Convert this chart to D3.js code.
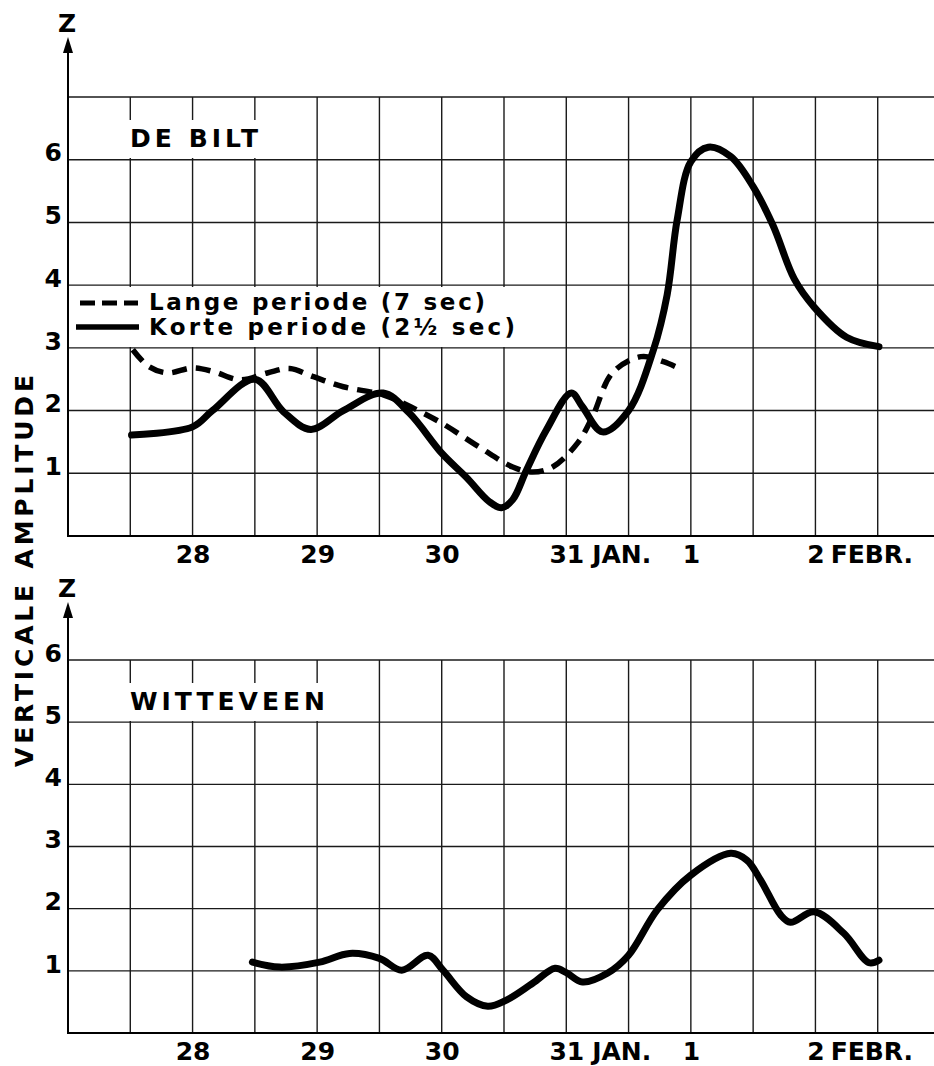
<!DOCTYPE html>
<html>
<head>
<meta charset="utf-8">
<script src="https://cdn.jsdelivr.net/npm/d3@7"></script>
<style>
  body { margin: 0; background: #fff; }
  svg { display: block; font-family: "DejaVu Sans", sans-serif; font-weight: bold; }
</style>
</head>
<body>
<svg id="chart" width="934" height="1066"></svg>
<script>
// days: 27 = 27 jan ... 32 = 1 febr, 33 = 2 febr
const xTickDays = [28, 29, 30, 31, 32, 33];
const xTickLabels = ["28", "29", "30", "31", "1", "2"];
const monthDays = [31, 33];
const monthLabels = ["JAN.", "FEBR."];

// De Bilt, korte periode (2½ sec)
const biltKorteDay = [27.51, 28.0, 28.16, 28.5, 28.73, 28.95, 29.21, 29.53, 29.74, 30.0, 30.2, 30.38, 30.48, 30.57, 30.68, 30.84, 31.04, 31.13, 31.29, 31.5, 31.7, 31.81, 31.89, 32.0, 32.14, 32.32, 32.5, 32.66, 32.83, 32.99, 33.25, 33.51];
const biltKorteAmp = [1.61, 1.74, 2.0, 2.5, 1.98, 1.7, 2.0, 2.28, 1.96, 1.32, 0.93, 0.55, 0.45, 0.58, 1.05, 1.69, 2.28, 2.06, 1.66, 2.0, 2.97, 3.85, 5.04, 5.97, 6.2, 6.05, 5.57, 4.95, 4.1, 3.65, 3.17, 3.02];

// De Bilt, lange periode (7 sec)
const biltLangeDay = [27.52, 27.65, 27.8, 28.0, 28.17, 28.38, 28.6, 28.78, 28.97, 29.21, 29.53, 29.75, 30.0, 30.3, 30.57, 30.73, 30.89, 31.09, 31.21, 31.37, 31.6, 31.78, 31.9];
const biltLangeAmp = [2.97, 2.7, 2.6, 2.68, 2.62, 2.49, 2.6, 2.67, 2.54, 2.38, 2.25, 2.06, 1.8, 1.42, 1.1, 1.02, 1.1, 1.48, 1.9, 2.6, 2.86, 2.78, 2.68];

// Witteveen, korte periode
const wittDay = [28.48, 28.7, 29.02, 29.26, 29.5, 29.68, 29.89, 30.01, 30.2, 30.37, 30.52, 30.73, 30.91, 31.0, 31.13, 31.33, 31.5, 31.73, 32.0, 32.32, 32.45, 32.56, 32.72, 32.8, 32.99, 33.23, 33.43, 33.51];
const wittAmp = [1.14, 1.06, 1.14, 1.28, 1.2, 1.01, 1.25, 1.01, 0.58, 0.43, 0.53, 0.8, 1.04, 0.97, 0.82, 0.96, 1.25, 1.98, 2.54, 2.89, 2.78, 2.46, 1.9, 1.78, 1.95, 1.6, 1.13, 1.17];

const yTicks = [1, 2, 3, 4, 5, 6];

const svg = d3.select("#chart");
const left = 68, right = 940;

const x = d3.scaleLinear().domain([27, 34]).range([left, right]);

function zip(days, amps) {
  return days.map((d, i) => ({day: d, amp: amps[i]}));
}

function drawPanel(opts) {
  const y = d3.scaleLinear().domain([0, opts.yMax]).range([opts.bottom, opts.top]);
  const g = svg.append("g");

  // grid
  const vlines = d3.range(27.5, 34, 0.5);
  g.selectAll(".vl").data(vlines).join("line")
    .attr("x1", d => x(d)).attr("x2", d => x(d))
    .attr("y1", y(0)).attr("y2", y(opts.yMax))
    .attr("stroke", "#1a1a1a").attr("stroke-width", 1.4);
  g.selectAll(".hl").data(d3.range(1, opts.yMax + 1)).join("line")
    .attr("x1", left).attr("x2", 934)
    .attr("y1", d => y(d)).attr("y2", d => y(d))
    .attr("stroke", "#1a1a1a").attr("stroke-width", 1.4);

  // x axis line
  g.append("line")
    .attr("x1", left).attr("x2", 934)
    .attr("y1", y(0)).attr("y2", y(0))
    .attr("stroke", "#000").attr("stroke-width", 2);

  // y axis line with arrow
  g.append("line")
    .attr("x1", left).attr("x2", left)
    .attr("y1", y(0) + 1).attr("y2", opts.arrowTip + 8)
    .attr("stroke", "#000").attr("stroke-width", 2);
  g.append("path")
    .attr("d", `M${left},${opts.arrowTip} L${left - 5},${opts.arrowTip + 16} L${left + 5},${opts.arrowTip + 16} Z`)
    .attr("fill", "#000");
  g.append("text")
    .attr("x", left - 1).attr("y", opts.arrowTip - 5)
    .attr("text-anchor", "middle")
    .attr("font-size", 25)
    .text("Z");

  // station name on a white patch
  g.append("rect")
    .attr("x", left + 1).attr("y", opts.nameBox[0])
    .attr("width", opts.nameBox[2]).attr("height", opts.nameBox[1])
    .attr("fill", "#fff");
  g.append("text")
    .attr("x", 130).attr("y", opts.nameBase)
    .attr("font-size", 25)
    .attr("textLength", opts.nameLen).attr("lengthAdjust", "spacing")
    .text(opts.name);

  // y ticks
  const ya = g.append("g")
    .attr("transform", `translate(${left},0)`)
    .call(d3.axisLeft(y).tickValues(yTicks).tickFormat(d3.format("d"))
      .tickSize(0).tickPadding(6));
  ya.select(".domain").remove();
  ya.selectAll("text")
    .attr("font-family", "DejaVu Sans").attr("font-weight", "bold")
    .attr("font-size", 25).attr("fill", "#000").attr("dy", "0.05em");

  // x ticks
  const xa = g.append("g")
    .attr("transform", `translate(0,${y(0)})`)
    .call(d3.axisBottom(x).tickValues(xTickDays)
      .tickFormat((d, i) => xTickLabels[i]).tickSize(0).tickPadding(9));
  xa.select(".domain").remove();
  xa.selectAll("text")
    .attr("font-family", "DejaVu Sans").attr("font-weight", "bold")
    .attr("font-size", 25).attr("fill", "#000");
  xa.selectAll(".tick").each(function (d) {
    const k = monthDays.indexOf(d);
    if (k < 0) return;
    const t = d3.select(this).select("text");
    const w = t.node().getComputedTextLength();
    t.attr("text-anchor", "start").attr("x", -w / 2);
    t.append("tspan").attr("dx", d === 31 ? 8 : 6).text(monthLabels[k]);
  });

  return {g, y};
}

const topPanel = drawPanel({
  yMax: 7, top: 97, bottom: 536, arrowTip: 37,
  name: "DE BILT", nameBase: 147, nameLen: 128, nameBox: [120, 38, 232]
});
const botPanel = drawPanel({
  yMax: 6, top: 660, bottom: 1033, arrowTip: 602,
  name: "WITTEVEEN", nameBase: 710, nameLen: 195, nameBox: [683, 38, 262]
});

// legend
const lg = topPanel.g.append("g");
lg.append("rect")
  .attr("x", left + 1).attr("y", 287).attr("width", 448).attr("height", 60)
  .attr("fill", "#fff");
lg.append("line")
  .attr("x1", 80).attr("x2", 138).attr("y1", 303).attr("y2", 303)
  .attr("stroke", "#000").attr("stroke-width", 5).attr("stroke-dasharray", "15,7");
lg.append("line")
  .attr("x1", 76).attr("x2", 139).attr("y1", 327).attr("y2", 327)
  .attr("stroke", "#000").attr("stroke-width", 5.5);
lg.append("text")
  .attr("x", 149).attr("y", 310).attr("font-size", 23)
  .attr("textLength", 336).attr("lengthAdjust", "spacing")
  .text("Lange periode (7 sec)");
lg.append("text")
  .attr("x", 149).attr("y", 335).attr("font-size", 23)
  .attr("textLength", 366).attr("lengthAdjust", "spacing")
  .text("Korte periode (2½ sec)");

// curves
function drawCurve(panel, data, dashed) {
  const line = d3.line()
    .x(d => x(d.day))
    .y(d => panel.y(d.amp))
    .curve(d3.curveCatmullRom.alpha(0.5));
  panel.g.append("path")
    .datum(data)
    .attr("d", line)
    .attr("fill", "none")
    .attr("stroke", "#000")
    .attr("stroke-width", dashed ? 5.5 : 7)
    .attr("stroke-linecap", dashed ? "butt" : "round")
    .attr("stroke-linejoin", "round")
    .attr("stroke-dasharray", dashed ? "15,9" : null);
}

drawCurve(topPanel, zip(biltLangeDay, biltLangeAmp), true);
drawCurve(topPanel, zip(biltKorteDay, biltKorteAmp), false);
drawCurve(botPanel, zip(wittDay, wittAmp), false);

// shared y label
svg.append("text")
  .attr("transform", "translate(33,571) rotate(-90)")
  .attr("text-anchor", "middle")
  .attr("font-size", 25)
  .attr("textLength", 392).attr("lengthAdjust", "spacing")
  .text("VERTICALE AMPLITUDE");
</script>
</body>
</html>
